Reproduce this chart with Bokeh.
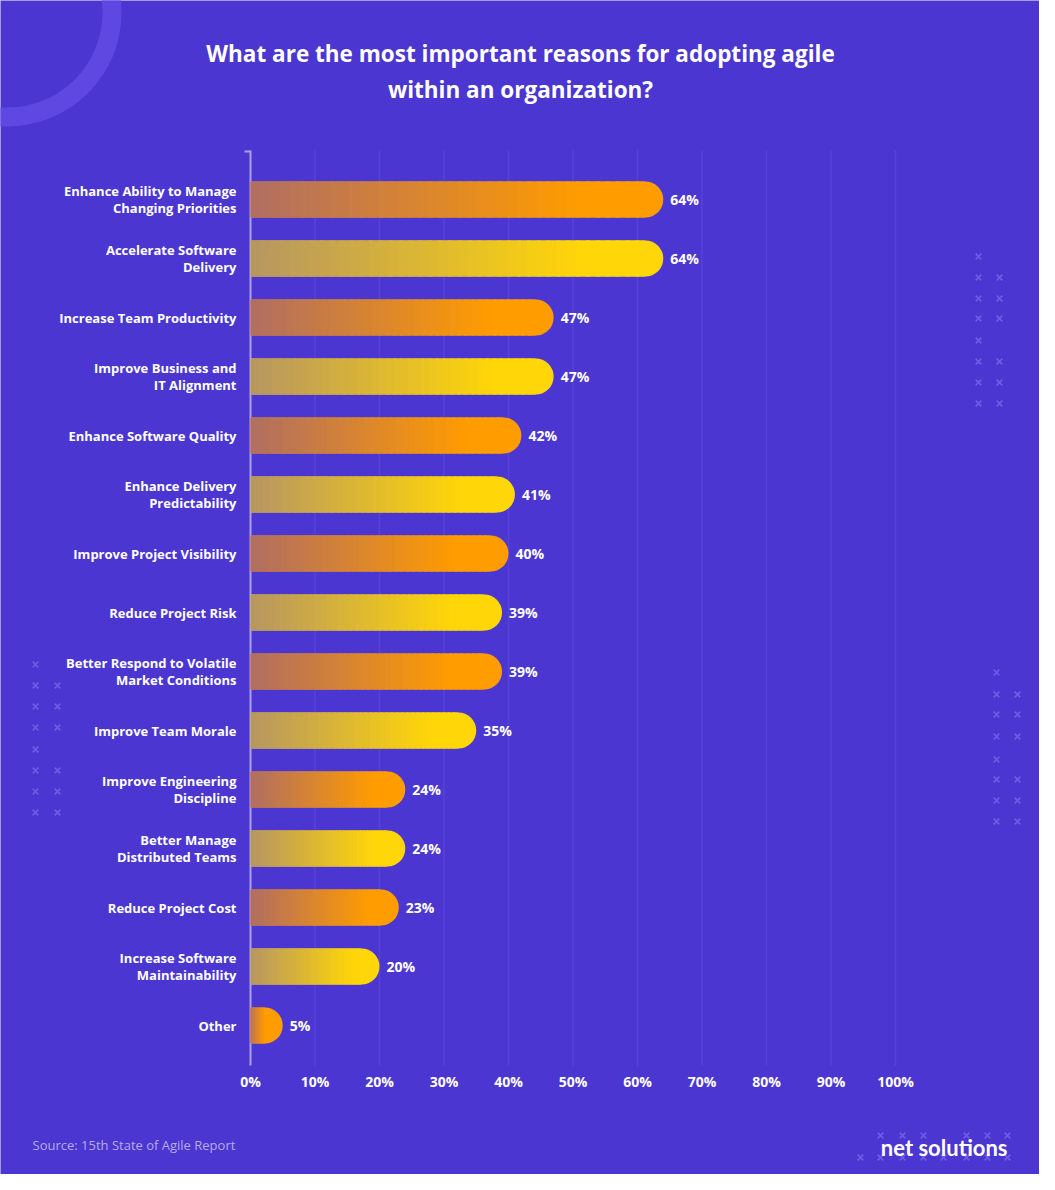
from bokeh.plotting import figure
from bokeh.models import Range1d
from bokeh.core.properties import value
from bokeh.embed import file_html
from bokeh.resources import INLINE

# ---------------- data ----------------
categories = [
    "Enhance Ability to Manage\nChanging Priorities",
    "Accelerate Software\nDelivery",
    "Increase Team Productivity",
    "Improve Business and\nIT Alignment",
    "Enhance Software Quality",
    "Enhance Delivery\nPredictability",
    "Improve Project Visibility",
    "Reduce Project Risk",
    "Better Respond to Volatile\nMarket Conditions",
    "Improve Team Morale",
    "Improve Engineering\nDiscipline",
    "Better Manage\nDistributed Teams",
    "Reduce Project Cost",
    "Increase Software\nMaintainability",
    "Other",
]
values = [64, 64, 47, 47, 42, 41, 40, 39, 39, 35, 24, 24, 23, 20, 5]
tick_values = [0, 10, 20, 30, 40, 50, 60, 70, 80, 90, 100]
tick_labels = ["0%", "10%", "20%", "30%", "40%", "50%", "60%", "70%", "80%", "90%", "100%"]
title_lines = ["What are the most important reasons for adopting agile",
               "within an organization?"]
source_text = "Source: 15th State of Agile Report"
logo_text = "net solutions"

# ---------------- style ----------------
BG = "#4B36D1"
FONT = "Open Sans"
ORANGE = ((0xB0, 0x6E, 0x62), (0xFF, 0x9C, 0x00))
YELLOW = ((0xB6, 0x96, 0x62), (0xFF, 0xD6, 0x08))

W, H = 1039, 1174
PX0, SX = 250.0, 6.45       # screen px of x=0, px per percent
PY0, SY = 199.0, 59.0       # screen px of row 0, px per row


def X(px):  # reference-image px -> data x
    return (px - 8 - PX0) / SX


def Y(py):  # reference-image px -> data y
    return (py - 8 - PY0) / SY


p = figure(width=W, height=H, output_backend="svg", toolbar_location=None,
           x_range=Range1d(X(8), X(8 + W)), y_range=Range1d(Y(8 + H), Y(8)),
           min_border=0, min_border_left=0, min_border_right=0,
           min_border_top=0, min_border_bottom=0)
p.xaxis.visible = False
p.yaxis.visible = False
p.grid.visible = False
p.outline_line_color = None
p.background_fill_color = BG
p.border_fill_color = BG

# ---------------- decorations ----------------
p.annulus(x=[X(15)], y=[Y(20)], inner_radius=95, outer_radius=114,
          inner_radius_units="screen", outer_radius_units="screen",
          fill_color="#5F47E2", line_color=None)


def cross_block(x1, x2, ys):
    xs, yy = [], []
    for k, yv in enumerate(ys):
        xs.append(X(x1)); yy.append(Y(yv))
        if k not in (0, 4):
            xs.append(X(x2)); yy.append(Y(yv))
    return xs, yy


cx, cy = [], []
for (a, b, ys) in [(43, 65, [672, 693, 714, 735, 757, 778, 799, 820]),
                   (1004, 1025, [680, 702, 722, 744, 767, 787, 808, 829]),
                   (986, 1007, [264, 285, 306, 326, 348, 369, 390, 411])]:
    xs, yy = cross_block(a, b, ys)
    cx += xs; cy += yy
for xv in [888, 910, 931, 974, 995, 1015]:
    cx.append(X(xv)); cy.append(Y(1143))
for xv in [868, 888, 910, 931, 951, 974, 995, 1015]:
    cx.append(X(xv)); cy.append(Y(1165))
p.scatter(cx, cy, marker="x", size=8, line_color="#6F5DE2", line_width=1.6)

# ---------------- grid + axis line ----------------
grid_x = [t for t in tick_values if t > 0]
p.segment(x0=grid_x, y0=[Y(158)] * len(grid_x), x1=grid_x, y1=[Y(1073)] * len(grid_x),
          line_color="#5543D8", line_width=1.5)
p.segment(x0=[0], y0=[Y(158)], x1=[0], y1=[Y(1073)], line_color="#A99FF1", line_width=2)
p.segment(x0=[X(252)], y0=[Y(159)], x1=[0], y1=[Y(159)], line_color="#A99FF1", line_width=2)

# ---------------- bars ----------------
BAR_H = 36 / SY
CAP = 18 / SX
N = 40


def mix(c0, c1, t):
    return "#%02x%02x%02x" % tuple(int(round(a + (b - a) * t)) for a, b in zip(c0, c1))


for i, v in enumerate(values):
    c0, c1 = ORANGE if i % 2 == 0 else YELLOW
    p.hbar(y=[i], left=[0], right=[v], height=BAR_H, fill_color=mix(c0, c1, 1),
           line_color=None, border_radius=(0, 18, 18, 0))
    end = max(v - CAP, v * 0.45)
    full_at = min(0.8 * v, end)
    lefts, rights, cols = [], [], []
    for k in range(N):
        l = end * k / N
        r = end * (k + 1) / N
        t = min(1.0, ((l + r) / 2) / full_at)
        lefts.append(l)
        rights.append(min(end, r + end * 0.01))
        cols.append(mix(c0, c1, t))
    p.quad(left=lefts, right=rights, bottom=[i + BAR_H / 2] * N, top=[i - BAR_H / 2] * N,
           fill_color=cols, line_color=None)

idx = list(range(len(values)))
p.text(x=values, y=idx, text=[f"{v}%" for v in values], x_offset=7,
       text_align="left", text_baseline="middle", text_color="white",
       text_font=value(FONT), text_font_style="bold", text_font_size="14px")

p.text(x=[0] * len(categories), y=idx, text=categories, x_offset=-14,
       text_align="right", text_baseline="middle", text_color="white",
       text_font=value(FONT), text_font_style="bold", text_font_size="13px",
       text_line_height=0.92)

# ---------------- x tick labels ----------------
p.text(x=tick_values, y=[Y(1089)] * len(tick_values), text=tick_labels,
       text_align="center", text_baseline="middle", text_color="white",
       text_font=value(FONT), text_font_style="bold", text_font_size="14px")

# ---------------- title / footer ----------------
p.text(x=[X(528)] * 2, y=[Y(61), Y(97)], text=title_lines,
       text_align="center", text_baseline="middle", text_color="white",
       text_font=value(FONT), text_font_style="bold", text_font_size="22.5px")
p.text(x=[X(40)], y=[Y(1152)], text=[source_text], text_align="left",
       text_baseline="middle", text_color="#B5ADE8", text_font=value(FONT),
       text_font_size="13px")
p.text(x=[X(1015)], y=[Y(1155)], text=[logo_text], text_align="right",
       text_baseline="middle", text_color="white", text_font=value("Lato"),
       text_font_style="bold", text_font_size="22px")

open("out.html", "w").write(file_html(p, INLINE))
